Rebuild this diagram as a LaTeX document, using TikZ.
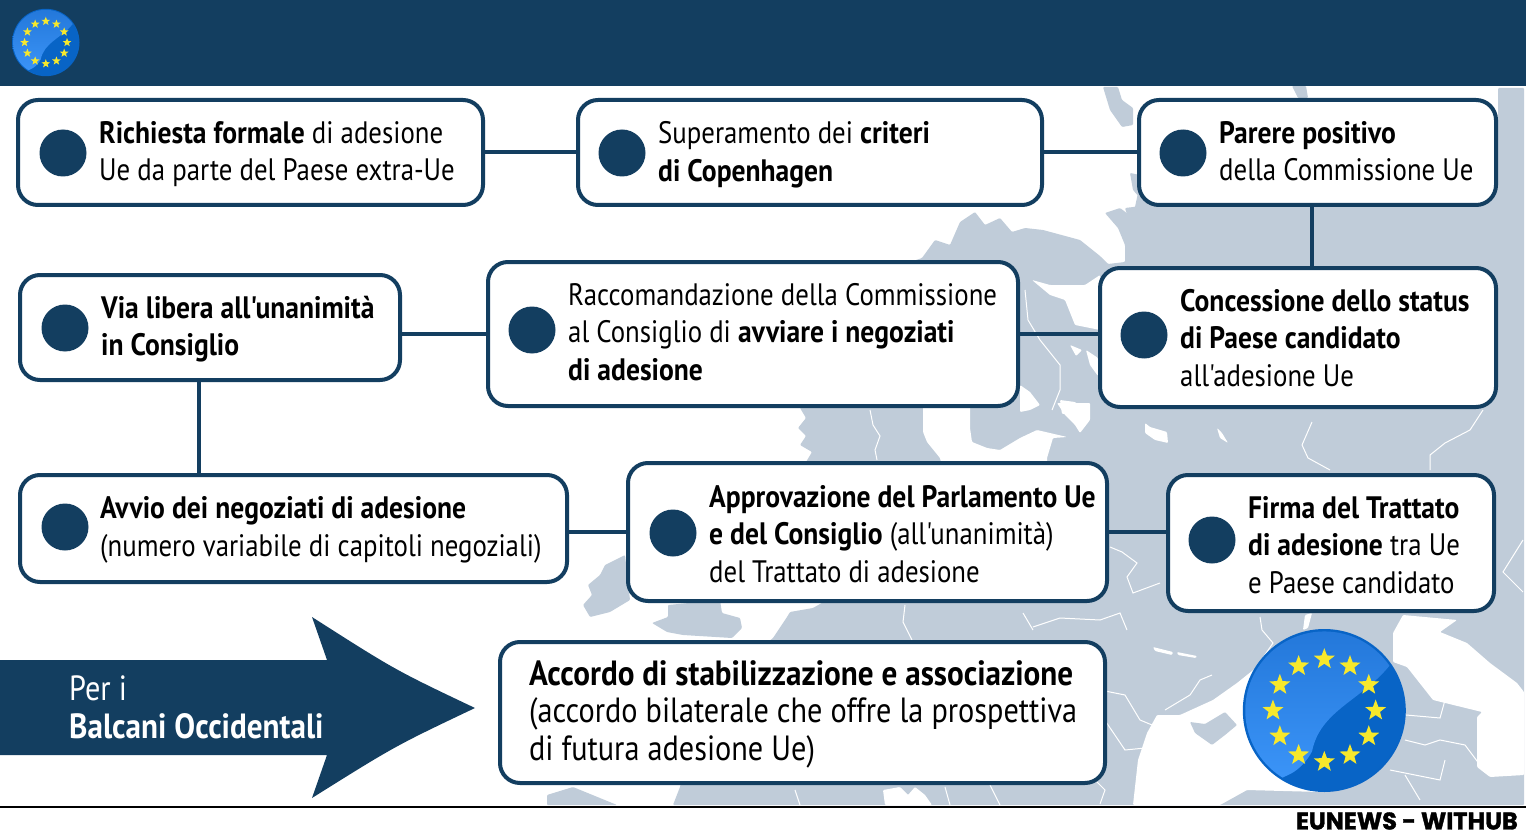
\documentclass[tikz,border=0pt]{standalone}
\usepackage{fontspec}
\setmainfont{PT Sans}[FakeStretch=0.865,BoldFeatures={FakeStretch=0.89},Ligatures=TeXOff]
\newfontfamily\brandfont{Poppins}[BoldFeatures={FakeBold=1.5}]
\usetikzlibrary{shapes.geometric}
\definecolor{navy}{RGB}{19, 62, 96}
\definecolor{land}{RGB}{192, 204, 217}
\definecolor{coinmid}{RGB}{8, 100, 198}
\definecolor{coindeep}{RGB}{3, 50, 104}
\definecolor{coinlight}{RGB}{62, 152, 252}
\definecolor{coinrim}{RGB}{34, 118, 216}
\definecolor{coinstar}{RGB}{247, 232, 44}
\pgfdeclareradialshading{coinshade}{\pgfpoint{-12bp}{10bp}}{color(0bp)=(coinmid); color(34bp)=(coinmid); color(62bp)=(coindeep); color(100bp)=(coindeep)}

\newcommand{\eucoin}[3]{
\begin{scope}[shift={(#1,#2)},x=#3pt,y=#3pt]
\shade[shading=coinshade] (0,0) circle (1);
\begin{scope}
\clip (0,0) circle (0.97);
\shade[top color=coinrim, middle color=coinlight, bottom color=coinlight]
    (0.80,0.55) .. controls (0.45,0.12) and (-0.05,0) .. (-0.15,-0.5)
    .. controls (-0.2,-0.6) and (-0.3,-0.72) .. (-0.42,-0.78)
    -- (-1.1,-1.1) -- (-1.1,1.1) -- (1.1,1.1) -- cycle;
\end{scope}
\foreach \a in {0,30,...,330} {
    \node[eustar, minimum size=#3*0.27pt] (star\a) at (\a:0.63) {};
}
\end{scope}
}

\begin{document}
\begin{tikzpicture}[
    x=1pt, y=-1pt,
    boxstep/.style={rectangle, rounded corners=20pt, draw=navy, line width=4pt, fill=white},
    dotmark/.style={circle, fill=navy, minimum size=47pt, inner sep=0pt},
    boxlabel/.style={anchor=west, align=left, inner sep=0pt, text=black, font=\fontsize{31}{37.5}\selectfont},
    link/.style={draw=navy, line width=4pt},
    eustar/.style={star, star points=5, star point ratio=2.4, fill=coinstar, inner sep=0pt},
    border/.style={draw=white, line width=1pt},
    sea/.style={fill=white, rounded corners=1pt},
    ground/.style={fill=land, rounded corners=1pt}
]
\useasboundingbox (0,0) rectangle (1526,837);
\fill[white] (0,0) rectangle (1526,837);

% === Map ===
\fill[ground] (1524,88) -- (1524,805) -- (673,805) -- (680,787) -- (700,700) -- (773,638) -- (787,617)
    -- (790,612) -- (813,608) -- (827,600) -- (815,540) -- (806,462) -- (812,452) -- (800,445) -- (806,436)
    -- (798,428) -- (806,418) -- (800,408) -- (805,380) -- (880,290) -- (910,262) -- (922,258) -- (935,240)
    -- (950,245) -- (960,222) -- (975,212) -- (985,225) -- (1000,218) -- (1012,232) -- (1025,228) -- (1043,230) -- (1080,240)
    -- (1100,256) -- (1108,264) -- (1125,262) -- (1125,245) -- (1118,228) -- (1105,213) -- (1120,208)
    -- (1128,214) -- (1135,207) -- (1145,160) -- (1498,150) -- (1498,88) -- cycle;
\fill[ground] (1103,87) -- (1118,87) -- (1122,100) -- (1133,108) -- (1133,125) -- (1122,127) -- (1110,110) -- cycle;
\fill[ground] (1130,173) -- (1140,175) -- (1140,198) -- (1133,190) -- cycle;
\fill[ground] (1292,86) -- (1306,86) -- (1308,98) -- (1298,98) -- cycle;
\fill[ground] (1125,208) -- (1150,205) -- (1150,266) -- (1139,262) -- (1135,240) -- cycle;
% Ireland, Britain, Iberia
\fill[ground] (625,555) -- (605,565) -- (600,575) -- (588,585) -- (592,595) -- (583,605) -- (590,617) -- (610,612) -- (630,600) -- cycle;
\fill[ground] (668,605) -- (720,600) -- (722,613) -- (740,618) -- (742,628) -- (732,638) -- (683,635)
    -- (667,632) -- (652,623) -- (668,617) -- cycle;
\fill[ground] (547,795) -- (573,787) -- (617,805) -- (547,805) -- cycle;
% Seas
\fill[sea] (923,405) -- (970,405) -- (970,428) -- (972,442) -- (987,448) -- (1000,450) -- (1020,438) -- (1037,430)
    -- (1067,437) -- (1053,438) -- (1047,458) -- (1047,480) -- (945,480) -- (940,458) -- (927,442) -- (923,432) -- cycle;
\fill[sea] (1057,403) -- (1090,403) -- (1090,420) -- (1080,433) -- (1075,425) -- (1065,415) -- cycle;
\fill[sea] (1145,423) -- (1150,427) -- (1167,432) -- (1168,443) -- (1155,440) -- (1145,433) -- cycle;
\fill[sea] (1217,428) -- (1222,433) -- (1228,443) -- (1220,438) -- cycle;
\fill[sea] (1032,280) -- (1050,285) -- (1085,285) -- (1100,275) -- (1100,330) -- (1075,325) -- (1065,300) -- (1050,295) -- cycle;
\fill[sea] (1020,385) -- (1030,392) -- (1040,405) -- (1030,410) -- (1020,412) -- cycle;
\fill[sea] (1060,400) -- (1075,402) -- (1088,412) -- (1062,414) -- cycle;
\fill[sea] (1070,345) -- (1082,350) -- (1076,356) -- cycle;
\fill[sea] (1086,350) -- (1098,358) -- (1098,376) -- (1090,365) -- cycle;
\fill[sea] (1133,805) -- (1138,760) -- (1147,733) -- (1157,715) -- (1180,715) -- (1213,700) -- (1237,683) -- (1257,667)
    -- (1330,720) -- (1320,792) -- (1247,790) -- (1220,805) -- cycle;
\fill[ground] (1190,722) -- (1205,724) -- (1225,712) -- (1237,725) -- (1225,735) -- (1212,745) -- (1195,733) -- cycle;
\fill[sea] (1393,633) -- (1403,615) -- (1457,620) -- (1440,632) -- (1467,643) -- (1490,663) -- (1517,683) -- (1524,692)
    -- (1524,775) -- (1490,777) -- (1477,767) -- (1477,717) -- (1482,712) -- (1433,700) -- (1407,667) -- (1393,662) -- cycle;
\fill[sea] (883,790) -- (900,787) -- (908,795) -- (915,787) -- (925,795) -- (932,805) -- (885,805) -- cycle;
\fill[sea] (1153,647) -- (1173,652) -- (1172,655) -- (1155,651) -- cycle;
\fill[sea] (1177,652) -- (1197,656) -- (1196,658) -- (1178,655) -- cycle;
\fill[sea] (1305,615) -- (1312,613) -- (1308,628) -- (1303,630) -- cycle;
% Borders
\draw[border] (870,410) -- (873,425) -- (880,436) -- (875,450) -- (877,460);
\draw[border] (905,605) -- (903,622) -- (912,640);
\draw[border] (1110,547) -- (1122,552) -- (1137,563) -- (1127,577) -- (1133,593) -- (1160,583);
\draw[border] (1023,613) -- (1033,630);
\draw[border] (1033,627) -- (1060,618) -- (1100,620) -- (1120,613) -- (1127,630);
\draw[border] (1302,445) -- (1312,422);
\draw[border] (1302,445) -- (1308,458) -- (1330,470);
\draw[border] (1483,410) -- (1470,430) -- (1445,443) -- (1430,455) -- (1430,470);
\draw[border] (1260,617) -- (1262,630) -- (1273,643) -- (1258,665);
\draw[border] (1100,690) -- (1125,695) -- (1140,720) -- (1152,725);
\draw[border] (1100,713) -- (1125,750) -- (1145,748);
\draw[border] (1165,710) -- (1190,695) -- (1200,680) -- (1212,675);
\draw[border] (1406,715) -- (1440,718) -- (1445,700);
\draw[border] (1405,740) -- (1425,745) -- (1440,740) -- (1465,745) -- (1480,765);
\draw[border] (1390,770) -- (1440,780) -- (1445,760);
\draw[border] (1405,775) -- (1420,800);
\draw[border] (1523,540) -- (1503,572) -- (1523,592);
\draw[border] (1025,290) -- (1028,320) -- (1040,340) -- (1060,365) -- (1060,390) -- (1052,410);
\draw[border] (1100,804) -- (1105,790) -- (1095,780);
\draw[border] (795,790) -- (800,805);
\draw[border] (945,787) -- (950,805);
\draw[border] (990,785) -- (1000,805);

% === Header ===
\fill[navy] (0,0) rectangle (1526,86);
\eucoin{45.8}{42.5}{33.7}

% === Steps ===
\node[boxstep, minimum width=465pt, minimum height=105pt] (richiesta) at (250.5,152.5) {};
\node[boxstep, minimum width=464pt, minimum height=105pt] (superamento) at (810,152.5) {};
\node[boxstep, minimum width=357pt, minimum height=105pt] (parere) at (1317.5,152.5) {};
\node[boxstep, minimum width=396pt, minimum height=139pt] (concessione) at (1298,337.5) {};
\node[boxstep, minimum width=530pt, minimum height=144pt] (raccomandazione) at (753,334) {};
\node[boxstep, minimum width=380pt, minimum height=105pt] (vialibera) at (210,327.5) {};
\node[boxstep, minimum width=547pt, minimum height=107pt] (avvio) at (293.5,528.5) {};
\node[boxstep, minimum width=479pt, minimum height=138pt] (approvazione) at (867.5,532) {};
\node[boxstep, minimum width=326pt, minimum height=136pt] (firma) at (1331,543) {};
\node[boxstep, minimum width=605pt, minimum height=141pt] (accordo) at (802.5,712.5) {};

\node[dotmark] (dot1) at (63,153) {};
\node[dotmark] (dot2) at (622,153) {};
\node[dotmark] (dot3) at (1183,153) {};
\node[dotmark] (dot4) at (1144,335) {};
\node[dotmark] (dot5) at (532,330) {};
\node[dotmark] (dot6) at (65,328) {};
\node[dotmark] (dot7) at (65,527) {};
\node[dotmark] (dot8) at (673,533) {};
\node[dotmark] (dot9) at (1212,540) {};

\node[boxlabel] (richiestatext) at (99,154) {\textbf{Richiesta formale} di adesione\\Ue da parte del Paese extra-Ue};
\node[boxlabel] (superamentotext) at (658,155) {Superamento dei \textbf{criteri}\\\textbf{di Copenhagen}};
\node[boxlabel] (pareretext) at (1219,151) {\textbf{Parere positivo}\\della Commissione Ue};
\node[boxlabel] (concessionetext) at (1180,338) {\textbf{Concessione dello status}\\\textbf{di Paese candidato}\\all'adesione Ue};
\node[boxlabel] (raccomandazionetext) at (568,332) {Raccomandazione della Commissione\\al Consiglio di \textbf{avviare i negoziati}\\\textbf{di adesione}};
\node[boxlabel] (vialiberatext) at (101,329) {\textbf{Via libera all'unanimità}\\\textbf{in Consiglio}};
\node[boxlabel] (avviotext) at (100,530) {\textbf{Avvio dei negoziati di adesione}\\(numero variabile di capitoli negoziali)};
\node[boxlabel] (approvazionetext) at (709,534) {\textbf{Approvazione del Parlamento Ue}\\\textbf{e del Consiglio} (all'unanimità)\\del Trattato di adesione};
\node[boxlabel] (firmatext) at (1248,545) {\textbf{Firma del Trattato}\\\textbf{di adesione} tra Ue\\e Paese candidato};
\node[boxlabel, font=\fontsize{35}{37.5}\selectfont] (accordotext) at (529,714) {\textbf{Accordo di stabilizzazione e associazione}\\(accordo bilaterale che offre la prospettiva\\di futura adesione Ue)};

% Connectors
\coordinate (downa) at (1312,237);
\coordinate (downb) at (199,428);
\path[link] (richiesta) -- (superamento);
\path[link] (superamento) -- (parere);
\path[link] (parere.south -| downa) -- (concessione.north -| downa);
\path[link] (concessione.west |- raccomandazione.east) -- (raccomandazione.east);
\path[link] (raccomandazione.west) -- (vialibera.east |- raccomandazione.west);
\path[link] (vialibera.south -| downb) -- (avvio.north -| downb);
\path[link] (avvio.east |- approvazione.west) -- (approvazione.west);
\path[link] (approvazione.east) -- (firma.west |- approvazione.east);

% === Arrow ===
\fill[navy] (0,660) -- (327,660) -- (312,617) .. controls (395,670) .. (475,708)
    .. controls (395,746) .. (312,798) -- (327,755) -- (0,755) -- cycle;
\node[boxlabel, text=white, font=\fontsize{35}{38}\selectfont] (balcani) at (69,707) {Per i\\\textbf{Balcani Occidentali}};

% === Globe ===
\eucoin{1324.3}{710.5}{81.5}

% === Footer ===
\fill[black] (0,805.5) rectangle (1526,807.5);
\node[inner sep=0pt, anchor=east, font=\fontsize{24}{24}\selectfont\brandfont\bfseries] (brand) at (1518,821) {EUNEWS - WITHUB};
\end{tikzpicture}
\end{document}
